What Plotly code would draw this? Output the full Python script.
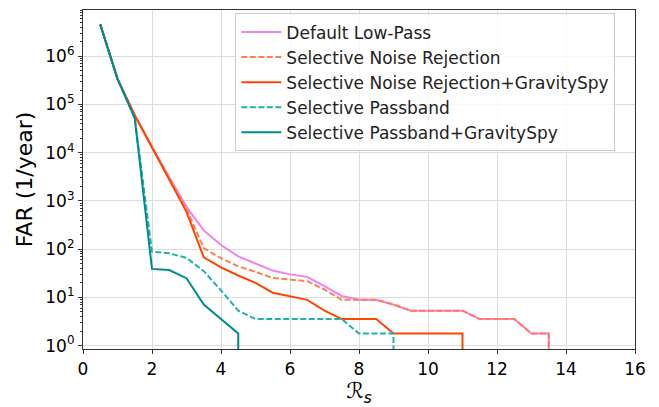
import plotly.graph_objects as go

# R_s thresholds (common grid, step 0.5)
rs = [0.5, 1.0, 1.5, 2.0, 2.5, 3.0, 3.5, 4.0, 4.5, 5.0, 5.5, 6.0, 6.5, 7.0,
      7.5, 8.0, 8.5, 9.0, 9.5, 10.0, 10.5, 11.0, 11.5, 12.0, 12.5, 13.0, 13.5]

names = ["Default Low-Pass", "Selective Noise Rejection",
         "Selective Noise Rejection+GravitySpy", "Selective Passband",
         "Selective Passband+GravitySpy"]

# FAR (1/year); last value of each series lies below the axis (curve drop-off)
far_default = [4.6e6, 3.4e5, 6.0e4, 1.3e4, 3.1e3, 754, 245, 122, 71, 51, 36, 30, 26.7, 17.1,
               10.7, 8.9, 8.9, 7.1, 5.3, 5.3, 5.3, 5.3, 3.56, 3.56, 3.56, 1.78, 1.78, 0.1]
far_snr = [4.6e6, 3.4e5, 6.0e4, 1.3e4, 3.0e3, 680, 105, 65, 44, 34, 25.3, 23.4, 21.7, 14.6,
           8.9, 8.9, 8.9, 7.1, 5.3, 5.3, 5.3, 5.3, 3.56, 3.56, 3.56, 1.78, 1.78, 0.1]
far_snr_gs = [4.6e6, 3.4e5, 6.0e4, 1.3e4, 2.9e3, 596, 68, 42, 28.5, 20, 12.5, 10.7, 8.9, 5.3,
              3.56, 3.56, 3.56, 1.78, 1.78, 1.78, 1.78, 1.78, 0.1]
far_sp = [4.6e6, 3.4e5, 5.2e4, 89, 82, 66, 35, 14, 5.3, 3.56, 3.56, 3.56, 3.56, 3.56,
          3.56, 1.78, 1.78, 1.78, 0.1]
far_sp_gs = [4.6e6, 3.4e5, 5.2e4, 39, 37, 25, 7.1, 3.56, 1.78, 0.1]

series = [far_default, far_snr, far_snr_gs, far_sp, far_sp_gs]
colors = ["#EE82EE", "#FF7F50", "#FF4500", "#20B2AA", "#008B8B"]
dashes = ["solid", "6px,2.5px", "solid", "6px,2.5px", "solid"]

x_ticks = [0, 2, 4, 6, 8, 10, 12, 14, 16]
y_exponents = [0, 1, 2, 3, 4, 5, 6]

fig = go.Figure()
for name, vals, col, dsh in zip(names, series, colors, dashes):
    n = len(vals) - 1
    xs = rs[:n] + [rs[n - 1]]
    fig.add_trace(go.Scatter(x=xs, y=vals, mode="lines", name=name,
                             line=dict(color=col, width=2, dash=dsh)))

# invisible trace carrying the minor-tick axis
fig.add_trace(go.Scatter(x=[None], y=[None], yaxis="y2", showlegend=False, hoverinfo="skip"))

minor_vals = [m * 10 ** e for e in range(0, 7) for m in range(2, 10)]

font = "DejaVu Sans"
yrange = [-0.07, 6.96]
fig.update_layout(
    width=659, height=407,
    margin=dict(l=83, r=24, t=9, b=55),
    paper_bgcolor="white", plot_bgcolor="white",
    font=dict(family=font, color="black", size=17),
    showlegend=True,
    legend=dict(x=0.276, y=0.99, xanchor="left", yanchor="top",
                bgcolor="rgba(255,255,255,0.8)", bordercolor="#cccccc", borderwidth=1,
                itemwidth=40,
                font=dict(family=font, size=17, color="#222222")),
    yaxis2=dict(type="log", range=yrange, overlaying="y", side="left",
                tickvals=minor_vals, ticks="outside", ticklen=2, tickcolor="#333333",
                showticklabels=False, showgrid=False, zeroline=False, showline=False),
)
fig.update_xaxes(
    range=[0, 16], tickvals=x_ticks, ticktext=[str(v) for v in x_ticks],
    showline=True, linecolor="#333333", linewidth=1.2, mirror=True,
    ticks="outside", ticklen=4, tickcolor="#333333",
    showgrid=True, gridcolor="#dcdcdc", gridwidth=1, zeroline=False,
    tickfont=dict(size=17),
    title=dict(text="<i>ℛ</i><sub><i>s</i></sub>", font=dict(size=22), standoff=4),
)
fig.layout.yaxis.update(
    type="log", range=yrange,
    tickvals=[10 ** e for e in y_exponents],
    ticktext=["10<sup>%d</sup>" % e for e in y_exponents],
    showline=True, linecolor="#333333", linewidth=1.2, mirror=True,
    ticks="outside", ticklen=4, tickcolor="#333333",
    showgrid=True, gridcolor="#dcdcdc", gridwidth=1, zeroline=False,
    tickfont=dict(size=17),
    title=dict(text="FAR (1/year)", font=dict(size=22), standoff=6),
)
fig.write_html("out.html")
